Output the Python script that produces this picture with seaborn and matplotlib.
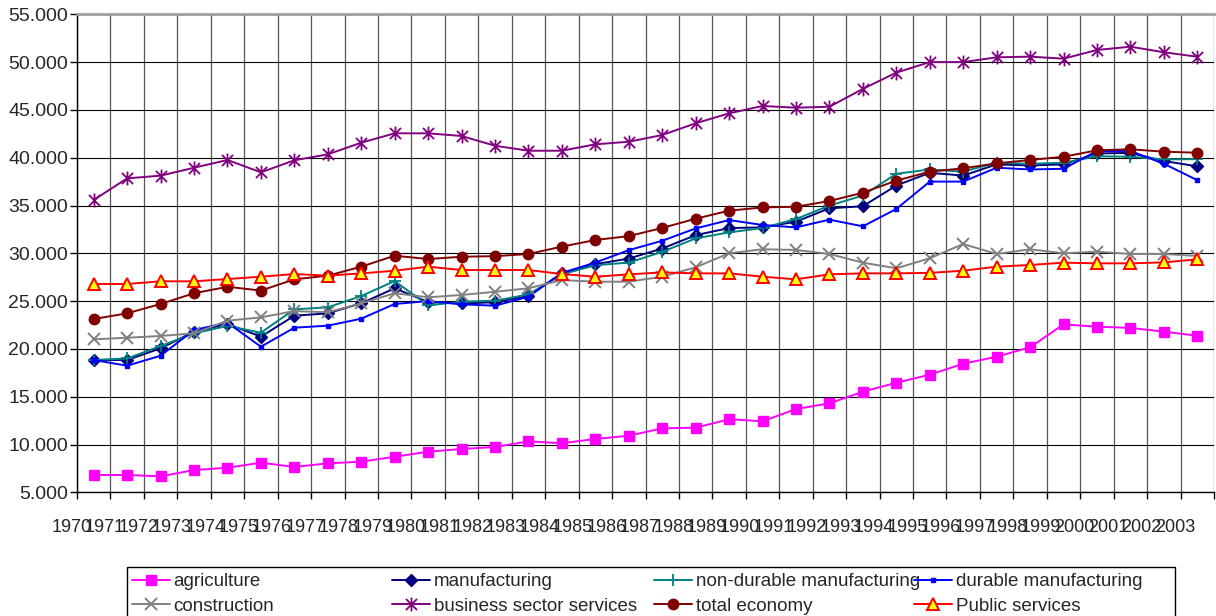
import numpy as np
import matplotlib
matplotlib.use("Agg")
import matplotlib.pyplot as plt
from matplotlib.path import Path
from matplotlib.patches import Rectangle
from matplotlib.ticker import FuncFormatter
import seaborn as sns

# values
years = list(range(1970, 2004))

agriculture = [6810, 6810, 6670, 7330, 7570, 8100, 7650, 8030, 8200, 8720,
               9250, 9530, 9740, 10330, 10130, 10580, 10920, 11690, 11760, 12640,
               12430, 13710, 14310, 15520, 16460, 17300, 18450, 19180, 20170, 22570,
               22320, 22200, 21800, 21380]
manufacturing = [18840, 18840, 20060, 21800, 22600, 21280, 23470, 23720, 24770, 26340,
                 24900, 24750, 24880, 25530, 27910, 28860, 29450, 30500, 31900, 32640,
                 32710, 33310, 34710, 34920, 37090, 38420, 38130, 39300, 39190, 39300,
                 40450, 40500, 39650, 39100]
non_durable = [18840, 19000, 20300, 21630, 22400, 21700, 24140, 24350, 25530, 27100,
               24550, 24940, 25040, 25700, 27800, 28750, 29030, 30150, 31560, 32190,
               32640, 33590, 34990, 36040, 38320, 38770, 38550, 39470, 39370, 39470,
               40150, 40100, 39820, 39850]
durable = [18840, 18240, 19290, 21980, 22740, 20230, 22220, 22430, 23160, 24700,
           25000, 24660, 24520, 25460, 27950, 29030, 30330, 31310, 32600, 33480,
           32960, 32710, 33520, 32820, 34640, 37500, 37500, 38950, 38770, 38840,
           40700, 40700, 39370, 37650]
construction = [21000, 21170, 21350, 21630, 22950, 23300, 23960, 23830, 24770, 25820,
                25400, 25640, 25980, 26340, 27200, 27030, 27030, 27550, 28540, 30000,
                30420, 30350, 29930, 29020, 28430, 29480, 30970, 29930, 30420, 30000,
                30170, 29930, 29930, 29720]
business = [35580, 37840, 38120, 38950, 39760, 38470, 39730, 40350, 41570, 42550,
            42550, 42270, 41250, 40730, 40730, 41400, 41670, 42370, 43600, 44640,
            45410, 45230, 45330, 47200, 48900, 50000, 50000, 50500, 50570, 50360,
            51270, 51610, 51030, 50560]
total_economy = [23130, 23720, 24700, 25820, 26500, 26100, 27280, 27660, 28600, 29750,
                 29400, 29640, 29700, 29930, 30700, 31390, 31800, 32650, 33620, 34460,
                 34800, 34870, 35470, 36340, 37600, 38540, 38890, 39410, 39760, 40100,
                 40770, 40880, 40630, 40520]
public = [26790, 26790, 27070, 27070, 27310, 27550, 27830, 27660, 27900, 28180,
          28600, 28250, 28250, 28250, 27830, 27550, 27800, 28000, 27900, 27900,
          27550, 27280, 27800, 27900, 27900, 27950, 28180, 28600, 28780, 29020,
          28950, 28950, 29050, 29370]

names = ["agriculture", "manufacturing", "non-durable manufacturing", "durable manufacturing",
         "construction", "business sector services", "total economy", "Public services"]
series = [agriculture, manufacturing, non_durable, durable,
          construction, business, total_economy, public]

# Excel style asterisk: x with a vertical bar
star = Path([(0, -1), (0, 1), (-0.8, -0.8), (0.8, 0.8), (-0.8, 0.8), (0.8, -0.8)],
            [Path.MOVETO, Path.LINETO, Path.MOVETO, Path.LINETO, Path.MOVETO, Path.LINETO])

styles = [
    dict(color="#FF00FF", marker="s", markersize=7.5, markerfacecolor="#FF00FF", markeredgecolor="#FF00FF"),
    dict(color="#000080", marker="D", markersize=6, markerfacecolor="#000080", markeredgecolor="#000080"),
    dict(color="#008080", marker="+", markersize=8, markerfacecolor="none", markeredgecolor="#008080", markeredgewidth=1.3),
    dict(color="#0000FF", marker="s", markersize=3.5, markerfacecolor="#0000FF", markeredgecolor="#0000FF"),
    dict(color="#808080", marker="x", markersize=9, markerfacecolor="none", markeredgecolor="#808080", markeredgewidth=1.4),
    dict(color="#800080", marker=star, markersize=10, markerfacecolor="none", markeredgecolor="#800080", markeredgewidth=1.3),
    dict(color="#800000", marker="o", markersize=7.5, markerfacecolor="#800000", markeredgecolor="#800000"),
    dict(color="#FF0000", marker="^", markersize=8.5, markerfacecolor="#FFFF00", markeredgecolor="#FF0000", markeredgewidth=1.4),
]

sns.set_style("white")
plt.rcParams["font.family"] = ["Liberation Sans", "DejaVu Sans"]

W, H = 1216, 616
fig = plt.figure(figsize=(W / 100, H / 100), dpi=100)
ax = fig.add_axes([77 / W, 1 - 492.3 / H, 1137 / W, (492.3 - 14.3) / H])

x = np.arange(len(years))
handles = []
for name, vals, st in zip(names, series, styles):
    st = dict(st)
    st.setdefault("markeredgewidth", 1.0)
    sns.lineplot(x=x, y=vals, ax=ax, linewidth=1.4, label=name, legend=False, **st)
    handles.append(ax.lines[-1])

ax.set_xlim(-0.5, len(years) - 0.5)
ax.set_ylim(5000, 55000)
ax.set_yticks(np.arange(5000, 55001, 5000))
ax.yaxis.set_major_formatter(FuncFormatter(lambda v, p: f"{v:,.0f}".replace(",", ".")))

# gridlines and ticks on category boundaries
ax.set_xticks(np.arange(-0.5, len(years), 1))
ax.set_xticklabels([])
# year labels sit left of the points, overlapping, as in the source
for i, yr in enumerate(years):
    ax.text(i - 0.667, -0.056, str(yr), transform=ax.get_xaxis_transform(),
            ha="center", va="top", fontsize=13, clip_on=False)

ax.tick_params(axis="x", length=5, width=1, color="black", direction="out", bottom=True)
ax.tick_params(axis="y", length=5, width=1, color="black", direction="out", left=True, pad=1.5, labelsize=14)

ax.grid(axis="y", color="black", linewidth=0.8)
ax.grid(axis="x", color="#555555", linewidth=0.9)
ax.set_axisbelow(True)

for side in ["left", "bottom"]:
    ax.spines[side].set_color("black")
    ax.spines[side].set_linewidth(1)
ax.spines["top"].set_color("#a0a0a0")
ax.spines["top"].set_linewidth(2)
ax.spines["right"].set_visible(False)
ax.set_xlabel("")
ax.set_ylabel("")

# legend: four equal-width columns, two rows, inside one frame
col_x = [132, 392, 654, 914]
for c in range(4):
    hs = [handles[c], handles[c + 4]]
    ls = [names[c], names[c + 4]]
    fig.legend(hs, ls, loc="upper left", bbox_to_anchor=(col_x[c] / W, 1 - 573 / H),
               frameon=False, borderpad=0, borderaxespad=0, handlelength=2.0,
               handletextpad=0.22, labelspacing=0.4, fontsize=13.5)
fig.add_artist(Rectangle((127 / W, -0.2), (1175 - 127) / W, 0.2 + 1 - 567 / H,
                         transform=fig.transFigure, fill=False, edgecolor="black", linewidth=1))

fig.savefig("out.png", dpi=100)
